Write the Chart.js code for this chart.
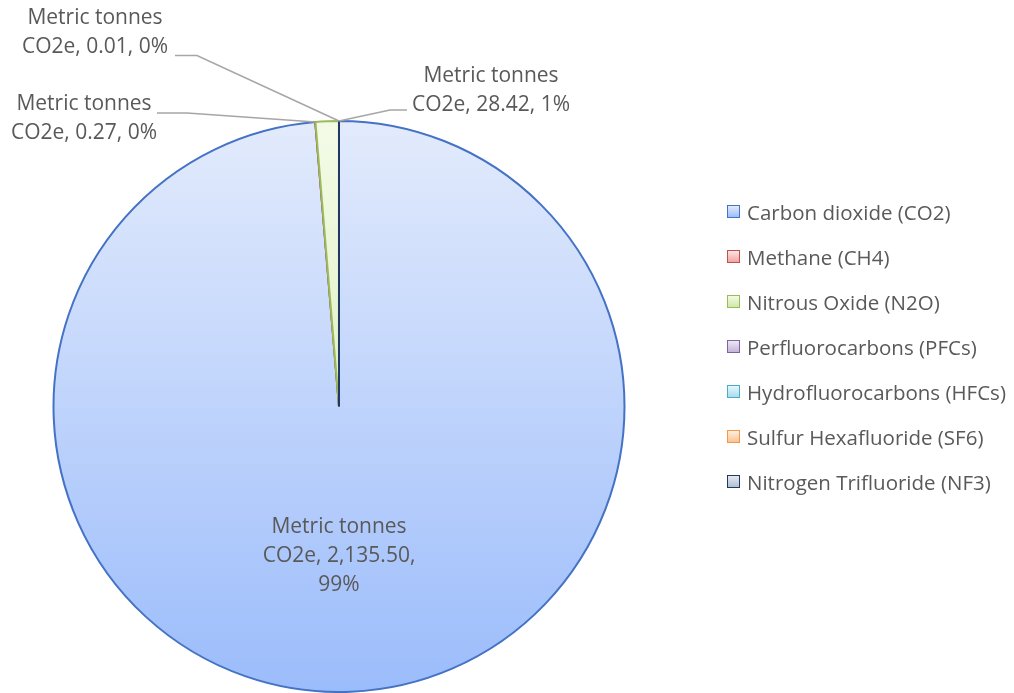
<!DOCTYPE html>
<html>
<head>
<meta charset="utf-8">
<script src="https://cdn.jsdelivr.net/npm/chart.js@4.4.1/dist/chart.umd.min.js"></script>
<style>
  html, body { margin: 0; padding: 0; background: #fff; }
  #wrap { position: relative; width: 1014px; height: 693px; }
  #pie { position: absolute; left: 0; top: 0; }
  #legend { position: absolute; left: 727px; top: 189px; font-family: "Open Sans", sans-serif; font-size: 20.5px; color: #595959; }
  #legend .item { height: 45px; display: flex; align-items: center; white-space: nowrap; }
  #legend .box { width: 11px; height: 11px; border: 1.5px solid; margin-right: 7px; box-sizing: content-box; }
</style>
</head>
<body>
<div id="wrap">
  <canvas id="pie" width="1014" height="693"></canvas>
  <div id="legend"></div>
</div>
<script>
const gases = ['Carbon dioxide (CO2)', 'Methane (CH4)', 'Nitrous Oxide (N2O)', 'Perfluorocarbons (PFCs)',
  'Hydrofluorocarbons (HFCs)', 'Sulfur Hexafluoride (SF6)', 'Nitrogen Trifluoride (NF3)'];
const seriesName = 'Metric tonnes CO2e';
const tonnes = [2135.50, 0.27, 28.42, 0, 0, 0, 0.01];

// office-style gradient fills, light at the top, deeper at the bottom
const fillTop    = ['#e3ebfc', '#fbe4e4', '#f3fbe7', '#ede7f5', '#e7f6fb', '#feefe2', '#e5e9f0'];
const fillBottom = ['#9bbcfb', '#f2a5a3', '#d0e8a6', '#c3b4d9', '#a8ddef', '#fbc291', '#b2bfd1'];
const edge       = ['#4472c4', '#c0504d', '#9bbb59', '#8064a2', '#4bacc6', '#f79646', '#1f3864'];

// where each slice's label goes, relative to the pie centre
const labelSpots = {
  0: { dx: 0, dy: 150, inside: true },
  1: { dx: -255, dy: -287.5, lead: [73, -6], run: 30, at: 'mid' },
  2: { dx: 152, dy: -316, lead: [-84, 19.5], run: -17, at: 'end' },
  6: { dx: -244, dy: -373.5, lead: [80, 22.5], run: 22, at: 'mid' }
};

const total = tonnes.reduce((a, b) => a + b, 0);
const fmt = v => v.toLocaleString('en-US', { minimumFractionDigits: 2, maximumFractionDigits: 2 });

function grad(chart, i) {
  const area = chart.chartArea;
  if (!area) return fillTop[i];
  const g = chart.ctx.createLinearGradient(0, area.top, 0, area.bottom);
  g.addColorStop(0, fillTop[i]);
  g.addColorStop(1, fillBottom[i]);
  return g;
}

const sliceLabels = {
  id: 'sliceLabels',
  afterDatasetsDraw(chart) {
    const ctx = chart.ctx;
    const arcs = chart.getDatasetMeta(0).data;
    ctx.save();
    ctx.font = '21px "Open Sans"';
    ctx.fillStyle = '#595959';
    ctx.textAlign = 'center';
    ctx.textBaseline = 'middle';
    const lh = 29;
    Object.keys(labelSpots).forEach(k => {
      const i = +k, s = labelSpots[k], arc = arcs[i];
      const v = tonnes[i];
      const pct = Math.round(v / total * 100) + '%';
      const lines = s.inside
        ? ['Metric tonnes', 'CO2e, ' + fmt(v) + ',', pct]
        : ['Metric tonnes', 'CO2e, ' + fmt(v) + ', ' + pct];
      const cx = arc.x + s.dx, cy = arc.y + s.dy;
      const y0 = cy - (lines.length - 1) * lh / 2;
      lines.forEach((t, n) => ctx.fillText(t, cx, y0 + n * lh));
      if (s.inside) return;
      const a = s.at === 'mid' ? (arc.startAngle + arc.endAngle) / 2 : arc.endAngle;
      const ax = arc.x + Math.cos(a) * arc.outerRadius;
      const ay = arc.y + Math.sin(a) * arc.outerRadius;
      const lx = cx + s.lead[0], ly = cy + s.lead[1];
      ctx.beginPath();
      ctx.strokeStyle = '#a6a6a6';
      ctx.lineWidth = 1.5;
      ctx.moveTo(lx, ly);
      ctx.lineTo(lx + s.run, ly);
      ctx.lineTo(ax, ay);
      ctx.stroke();
    });
    ctx.restore();
  }
};

new Chart(document.getElementById('pie'), {
  type: 'pie',
  data: {
    labels: gases,
    datasets: [{
      label: seriesName,
      data: tonnes,
      backgroundColor: c => grad(c.chart, c.dataIndex),
      borderColor: edge,
      borderWidth: 2
    }]
  },
  options: {
    responsive: false,
    devicePixelRatio: 1,
    animation: false,
    layout: { padding: { top: 120, bottom: 0, left: 52, right: 388 } },
    plugins: { legend: { display: false }, tooltip: { enabled: false } }
  },
  plugins: [sliceLabels]
});

// legend beside the pie
const legend = document.getElementById('legend');
gases.forEach((g, i) => {
  const row = document.createElement('div');
  row.className = 'item';
  const box = document.createElement('span');
  box.className = 'box';
  box.style.borderColor = edge[i];
  box.style.background = 'linear-gradient(' + fillTop[i] + ', ' + fillBottom[i] + ')';
  row.appendChild(box);
  row.appendChild(document.createTextNode(g));
  legend.appendChild(row);
});
</script>
</body>
</html>
